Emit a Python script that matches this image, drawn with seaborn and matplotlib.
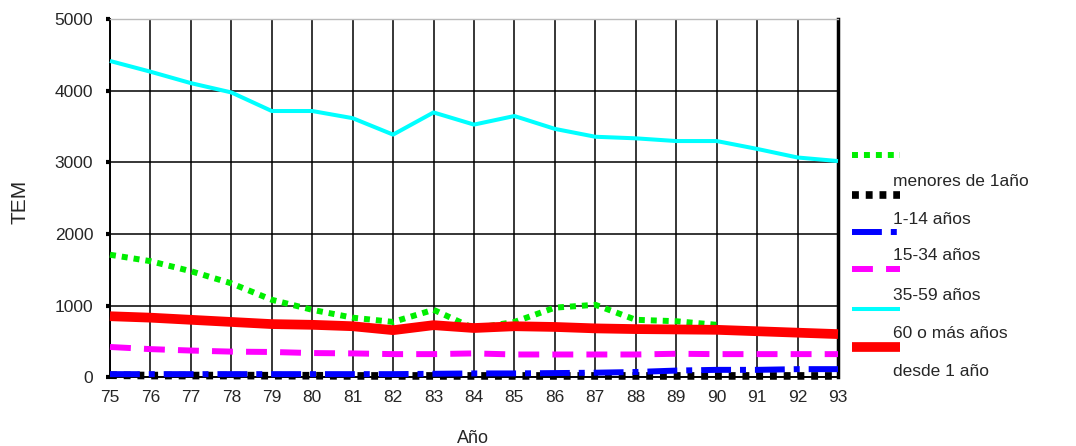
import matplotlib
matplotlib.use("Agg")
import matplotlib.pyplot as plt
import seaborn as sns
from matplotlib.lines import Line2D

sns.set_theme(style="white")
plt.rcParams['font.family'] = ['Liberation Sans', 'DejaVu Sans']

years = list(range(75, 94))
years_infant = list(range(75, 91))

menores_1 = [1710, 1620, 1480, 1310, 1080, 940, 830, 770, 940, 680, 770, 970, 1010, 800, 780, 730]
de_1_14 = [25, 20, 20, 20, 18, 18, 15, 15, 15, 15, 15, 15, 15, 15, 15, 15, 15, 15, 15]
de_15_34 = [40, 40, 40, 40, 40, 40, 40, 40, 45, 50, 50, 55, 60, 70, 90, 100, 100, 110, 110]
de_35_59 = [420, 390, 370, 355, 350, 335, 330, 320, 320, 330, 315, 315, 315, 315, 325, 320, 320, 320, 320]
de_60 = [4420, 4270, 4110, 3980, 3720, 3720, 3620, 3390, 3700, 3530, 3650, 3470, 3360, 3338, 3300, 3300, 3190, 3070, 3020]
desde_1 = [850, 830, 800, 770, 740, 730, 710, 655, 725, 685, 710, 700, 680, 670, 665, 660, 640, 620, 600]

labels = ["menores de 1año", "1-14 años", "15-34 años", "35-59 años", "60 o más años", "desde 1 año"]
y_ticks = [0, 1000, 2000, 3000, 4000, 5000]

fig = plt.figure(figsize=(10.76, 4.46), dpi=100)
ax = fig.add_axes([0.1022, 0.1547, 0.6766, 0.8016])

styles = [
    dict(color="#00ee00", lw=4.3, ls=(0, (1.0, 1.0))),
    dict(color="black", lw=5.5, ls=(0, (0.9, 0.9))),
    dict(color="#0000ff", lw=4.3, ls=(0, (5, 1.5, 1, 1.5))),
    dict(color="#ff00ff", lw=4.3, ls=(0, (3.5, 2.2))),
    dict(color="#00ffff", lw=2.9, ls="-"),
    dict(color="#ff0000", lw=7.0, ls="-"),
]
series = [(years_infant, menores_1), (years, de_1_14), (years, de_15_34),
          (years, de_35_59), (years, de_60), (years, desde_1)]

draw_order = [4, 0, 5, 3, 2, 1]
for i in draw_order:
    xs, ys = series[i]
    st = styles[i]
    sns.lineplot(x=xs, y=ys, ax=ax, color=st["color"], linewidth=st["lw"],
                 linestyle=st["ls"], clip_on=False, zorder=3 + i,
                 solid_capstyle="butt", dash_capstyle="butt")

ax.set_xlim(75, 93)
ax.set_ylim(0, 5000)
ax.set_xticks(years)
ax.set_xticklabels([str(y) for y in years])
ax.set_yticks(y_ticks)
ax.grid(True, color="black", linewidth=1.1)
ax.set_axisbelow(True)
for s in ["left", "bottom"]:
    ax.spines[s].set_color("black")
    ax.spines[s].set_linewidth(1.4)
ax.spines["right"].set_color("black")
ax.spines["right"].set_linewidth(2.5)
ax.spines["top"].set_color("#bbbbbb")
ax.spines["top"].set_linewidth(1.0)
ax.tick_params(axis="y", left=True, length=3, width=3, color="black", labelsize=12.5, pad=9)
ax.tick_params(axis="x", bottom=False, labelsize=12.5, pad=3)
ax.set_xlabel("Año", fontsize=13, va="center")
ax.xaxis.set_label_coords(0.4986, -0.173)
ax.set_ylabel("TEM", fontsize=15, va="center")
ax.yaxis.set_label_coords(-0.124, 0.49)

# legend drawn manually (handles above their labels, as in the original)
handle_y = [155, 195, 232, 269, 309, 347]
label_y = [181, 220, 256, 296, 333, 372]
W, H = 1076, 446
for i in range(6):
    st = styles[i]
    yy = 1 - handle_y[i] / H
    fig.add_artist(Line2D([852 / W, 900 / W], [yy, yy], color=st["color"],
                          linewidth=st["lw"], linestyle=st["ls"],
                          solid_capstyle="butt", dash_capstyle="butt"))
    fig.text(893 / W, 1 - label_y[i] / H, labels[i], fontsize=12.5, va="center", ha="left")

fig.savefig("out.png", dpi=100)
